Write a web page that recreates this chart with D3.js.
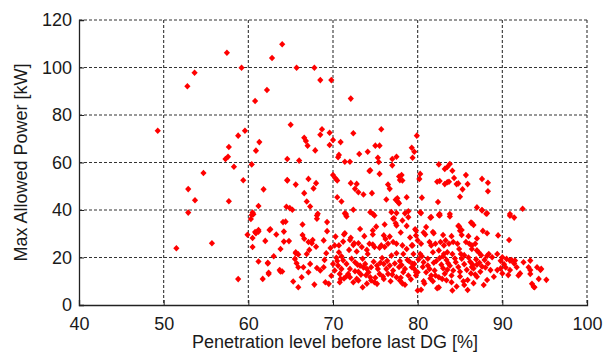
<!DOCTYPE html>
<html>
<head>
<meta charset="utf-8">
<script src="https://cdnjs.cloudflare.com/ajax/libs/d3/7.8.5/d3.min.js"></script>
<style>
  body { margin: 0; background: #fff; }
  text { font-family: "Liberation Sans", Arial, sans-serif; fill: #1a1a1a; }
</style>
</head>
<body>
<script>
// axis setup
const xTicks = [40, 50, 60, 70, 80, 90, 100];
const yTicks = [0, 20, 40, 60, 80, 100, 120];
const xLabel = "Penetration level before last DG [%]";
const yLabel = "Max Allowed Power [kW]";

// [penetration %, max power kW]
const sparsePoints = [
  [49.3,73.4],[51.5,23.9],[52.8,92.1],[52.9,48.8],[52.9,38.9],[53.65,97.8],[53.7,44.1],[54.7,55.6],
  [55.7,26],[57.3,61.5],[57.47,106.2],[57.6,62.4],[57.7,66.5],[57.7,43.7],[58.3,58.2],[58.8,71.3],
  [58.8,10.9],[59.2,99.9],[59.4,52.5],[59.6,73.4],[59.9,29.6],[60.3,36.2],[60.4,37.9],[60.4,59.2],
  [60.5,38.9],[60.5,28.2],[60.8,85.9],[60.8,30.7],[60.9,65],[61.2,41.7],[61.2,31.6],[61.3,68.6],
  [61.8,48.7],[62.2,90.5],[62.8,104],[64.0,109.8],[65.0,75.9],[65.7,99.9],[67.8,99.9],[68.5,94.7],
  [69.8,94.7],[72.1,86.9]
];

const midPoints = [
  [64.6,61.5],[64.6,52.4],[65.6,50.7],[66.0,60.8],[66.6,70.4],[66.8,69.1],[67.0,67.1],[66.6,47.1],
  [66.9,43.6],[67.3,41.5],[64.9,40.8],[65.2,40.1],[67.1,53.1],[68.0,51.3],[67.7,49.1],[67.9,65.1],
  [68.7,74.0],[68.5,71.7],[69.6,72.5],[70.0,69.5],[69.6,67.4],[70.9,68.6],[70.7,63.2],[70.6,62.2],
  [71.4,60.3],[72.0,60.3],[72.4,72.3],[73.1,63.6],[74.1,64.5],[75.0,67.1],[75.5,67.1],[75.7,74.0],
  [75.3,62.0],[75.4,60.2],[77.0,61.5],[77.5,62.4],[77.0,58.8],[74.4,56.7],[75.5,55.2],[70.0,54.7],
  [70.3,53.3],[70.5,52.4],[72.1,51.3],[72.8,51.0],[72.6,48.9],[73.0,47.5],[73.6,46.5],[74.6,47.1],
  [74.3,56.4],[76.5,50.7],[76.7,48.9],[77.8,54.1],[78.2,52.4],[70.5,45.4],[71.0,43.6],[76.3,44.4],
  [77.4,44.3],[77.7,43.3],[78.7,45.4],[72.4,40.1],[74.4,39.1],[74.7,38.4],[71.5,38.4],[76.9,39.1],
  [77.5,38.7],[78.9,39.5],[68.2,38.4],[79.9,71.3],[79.3,66.2],[79.6,64.5],[79.4,62.0],[78.1,54.7],
  [77.9,52.6],[77.6,44.9],[77.8,42.8],[71.4,38.6],[64.6,52.6],[64.5,41.4],
  [82.5,59.2],[83.8,59.4],[83.5,58.1],[83.2,57.3],[84.1,56.5],[80.3,55.2],[80.2,53.1],[85.7,54.7],
  [87.6,53.1],[82.3,51.9],[82.6,52.2],[83.2,50.9],[83.5,51.7],[83.7,51.9],[84.3,53.5],[84.6,50.9],
  [85.9,50.9],[88.3,51.5],[85.3,48.7],[88.3,47.9],[80.5,45.2],[85.0,45.6],[82.4,43.4],[87.0,41.1],
  [87.6,40.0],[92.4,40.5],[80.3,39.0],[82.6,38.3],[83.8,38.3],[88.2,38.6],[90.9,38.3],[91.4,36.8],
  [84.8,51.2]
];

const lowPoints = [
  [60.6,38.2],[68.1,37.7],[68.1,36.3],[71.5,38.1],[71.6,37.3],[74.9,37.7],[77.1,36.3],[77.5,33.5],
  [78.2,35.6],[78.9,37.0],[64.1,34.9],[66.4,33.9],[69.3,34.9],[76.1,33.9],[60.9,30.2],[61.2,30.9],
  [62.5,31.6],[63.3,29.7],[64.2,26.7],[66.4,29.5],[69.3,31.1],[71.3,29.7],[72.1,28.3],[72.5,26.0],
  [74.7,31.4],[74.7,29.7],[76.0,29.3],[76.7,28.8],[79.8,31.4],[64.8,26.9],[66.6,27.9],[67.1,26.5],
  [67.5,26.0],[67.6,27.4],[68.9,27.2],[70.3,28.8],[60.5,24.4],[63.8,23.6],[65.6,22.2],[65.9,21.3],
  [66.9,21.5],[67.2,23.2],[69.2,21.8],[70.7,22.2],[70.2,25.1],[70.7,25.1],[73.0,26.0],[73.4,24.4],
  [74.0,23.2],[74.1,21.5],[74.3,25.8],[74.7,25.5],[74.9,24.4],[75.5,24.1],[75.7,25.1],[76.1,24.4],
  [76.5,25.8],[77.1,26.5],[77.5,25.8],[78.2,25.1],[78.3,21.5],[78.7,23.6],[79.3,25.1],[79.5,21.5],
  [77.5,21.8],[76.9,20.8],[65.5,19.4],[65.7,17.6],[65.9,15.9],[62.3,17.8],[63.8,14.1],[64.0,14.1],
  [62.4,13.1],[61.7,11.0],[66.5,15.9],[67.1,13.8],[67.3,17.3],[68.1,15.6],[68.5,14.5],[68.9,15.9],
  [66.3,11.7],[67.8,8.6],[69.1,9.6],[69.5,8.9],[65.3,9.9],[65.9,7.5],[70.0,17.3],[70.2,14.5],
  [70.6,16.6],[71.0,15.2],[70.8,13.1],[71.6,17.3],[72.0,15.2],[71.8,13.1],[72.0,11.7],[72.6,18.0],
  [73.2,16.6],[70.8,9.6],[72.4,9.6],[72.8,11.0],[73.0,10.3],[73.5,7.5],[73.8,17.3],[74.0,15.2],
  [74.2,13.8],[74.5,15.9],[74.4,11.7],[74.5,10.3],[75.2,16.6],[75.3,15.2],[75.5,13.1],[74.9,9.6],
  [75.2,8.9],[76.0,17.3],[76.3,15.2],[76.5,13.1],[76.7,16.6],[77.1,14.5],[77.5,11.7],[77.9,10.3],
  [78.3,13.8],[78.5,15.2],[78.9,12.4],[79.3,15.9],[79.6,17.3],[79.8,13.8],[80.0,6.1],
  [71.4,30.2],[71.2,26.7],[72.0,27.4],[72.4,25.3],[71.9,23.2],[72.8,22.5],[73.5,19.5],[75.8,19.8],
  [77.9,18.5],[78.8,19.0],[70.4,19.9],[69.0,19.0],[71.0,20.5],[73.0,14.0],[76.8,10.0],[78.5,8.5],
  [75.9,12.0],[73.9,12.5],[71.3,11.2],[69.8,12.3],[72.6,14.2],[77.8,16.0],[76.2,27.8],[73.7,29.0],
  [73.2,32.0],[75.1,33.0],[78.0,30.5],[79.1,28.4],[62.0,27.0],[63.0,20.5],[61.2,18.3],[68.0,24.5],
  [69.7,24.0],[64.4,35.1],[62.6,31.9],[64.2,30.9],[62.3,17.5],[62.4,13.6],[63.7,14.7],[65.6,21.8],
  [70.5,18.5],[71.2,18.8],[72.2,19.5],[72.9,17.0],[73.6,15.8],[74.8,18.2],[75.6,17.8],[76.4,18.6],
  [77.3,17.5],[78.1,16.8],[79.0,18.4],[70.9,11.0],[71.6,12.1],[73.3,12.8],[74.0,9.0],[76.0,11.0],
  [77.0,12.8],[78.0,11.5],[79.2,10.8],[75.0,11.5]
];

const densePoints = [
  [80.4,38.7],[81.6,37.0],[82.6,37.7],[83.8,37.3],[87.6,39.8],[88.1,38.4],[90.9,37.6],
  [84.9,33.1],[85.2,31.6],[86.4,34.5],[81.0,32.8],[79.8,29.3],[80.9,29.7],[81.9,30.2],[88.2,30.2],
  [89.5,29.3],[90.8,27.4],[79.4,25.1],[80.0,27.2],[80.4,25.8],[81.4,26.5],[81.6,25.1],[82.1,25.8],
  [82.7,26.5],[83.1,25.1],[83.3,27.2],[83.7,25.8],[84.2,26.5],[81.8,22.2],[82.5,23.0],[83.1,21.5],
  [83.5,22.2],[84.1,21.5],[84.7,25.8],[84.9,23.6],[85.1,21.5],[85.7,26.5],[86.1,25.8],[86.4,25.1],
  [86.8,25.8],[86.4,23.6],[87.0,23.0],[87.2,22.2],[88.4,21.5],[88.8,20.1],[89.4,21.5],[90.0,20.1],
  [90.5,19.4],[90.9,18.7],[91.5,18.7],[92.5,18.0],[93.3,18.7],[93.1,15.9],[94.1,15.9],[94.5,14.8],
  [93.3,13.1],[94.3,11.0],[95.2,10.6],[93.5,8.9],[93.8,7.5],[91.7,15.9],[91.9,12.4],[79.4,17.3],
  [79.6,15.2],[80.0,13.8],[79.8,12.4],[80.7,18.0],[81.2,16.6],[81.4,15.2],[81.0,13.8],[81.6,12.4],
  [80.7,10.0],[81.8,10.0],[80.4,6.4],[82.1,12.4],[82.5,11.7],[82.9,11.0],[82.3,7.1],[84.0,9.6],
  [84.1,6.1],[88.2,20.7],[89.8,18.6],[90.2,17.2],[90.4,15.8],[89.8,15.4],[89.4,14.7],[90.0,13.3],
  [91.1,18.9],[91.4,17.5],[90.9,14.7],[92.1,13.3],[93.3,14.7],[94.6,15.2],[93.7,7.7],[90.7,12.6],
  [88.6,14.7],[89.0,11.9],[88.2,10.5],[87.8,8.4],[87.0,11.9],[87.4,14.0],[86.6,15.4],[86.3,13.3],
  [85.9,10.5],[85.5,8.4],[85.9,6.3],[82.5,7.4],[80.8,9.1],[78.2,9.1],[86.3,34.7],[86.6,33.7],
  [84.8,33.3],[85.0,31.3],[85.2,29.5],[87.7,31.2],[78.7,33.3],[79.7,31.9],[80.7,30.5],[81.8,30.7],
  [77.2,36.5],[77.4,34.4],[78.5,38.6],[81.5,36.8],[82.5,37.9],
  [82.2,18.5],[82.8,17.0],[83.0,15.5],[83.4,19.0],[83.8,16.5],[84.2,14.5],[84.5,18.0],[84.8,16.0],
  [85.2,19.5],[85.5,17.2],[85.8,14.8],[86.0,20.0],[86.2,18.2],[86.5,17.0],[86.9,19.2],[87.3,17.8],
  [87.6,16.2],[87.9,19.0],[88.3,17.5],[84.0,12.4],[83.2,13.2],[85.0,12.0],[86.8,12.8],[82.0,14.5],
  [80.5,20.5],[81.2,19.5],[83.0,20.5],[85.5,21.0],[87.5,21.0],[80.3,21.5],[80.1,19.2],[84.0,29.0],
  [86.0,29.0],[87.0,28.0],[83.0,29.5],
  [80.6,16.0],[81.9,17.8],[82.6,19.8],[83.6,17.6],[84.4,19.6],[85.0,14.0],[86.4,16.0],[87.0,17.0],
  [88.0,15.8],[83.5,14.8],[81.5,11.2],[83.4,10.4],[85.4,10.0],[86.6,9.2],[84.6,7.8]
];

const points = sparsePoints.concat(midPoints, lowPoints, densePoints);

var margin = { top: 20, right: 17, bottom: 48, left: 79 },
  width = 604 - margin.left - margin.right,
  height = 353 - margin.top - margin.bottom;

var x = d3.scaleLinear().domain([40, 100]).range([0, width]);
var y = d3.scaleLinear().domain([0, 120]).range([height, 0]);

var svg = d3.select("body").append("svg")
  .attr("width", 604)
  .attr("height", 353)
  .append("g")
  .attr("transform", "translate(" + margin.left + "," + margin.top + ")");

// dashed grid
svg.append("g").selectAll("line.gx")
  .data(xTicks.slice(1)).enter().append("line")
  .attr("x1", d => x(d)).attr("x2", d => x(d))
  .attr("y1", 0).attr("y2", height)
  .attr("stroke", "#333").attr("stroke-width", 1.1).attr("stroke-dasharray", "3,2");
svg.append("g").selectAll("line.gy")
  .data(yTicks.slice(1)).enter().append("line")
  .attr("x1", 0).attr("x2", width)
  .attr("y1", d => y(d)).attr("y2", d => y(d))
  .attr("stroke", "#333").attr("stroke-width", 1.1).attr("stroke-dasharray", "3,2");

// points
svg.append("g").selectAll("path")
  .data(points).enter().append("path")
  .attr("transform", d => "translate(" + x(d[0]) + "," + y(d[1]) + ")")
  .attr("d", "M0,-3.3L3.1,0L0,3.3L-3.1,0Z")
  .attr("fill", "#ff0000");

// axes
var xAxis = svg.append("g")
  .attr("transform", "translate(0," + height + ")")
  .call(d3.axisBottom(x).tickValues(xTicks).tickSize(-5).tickPadding(12));
var yAxis = svg.append("g")
  .call(d3.axisLeft(y).tickValues(yTicks).tickSize(-5).tickPadding(7));

[xAxis, yAxis].forEach(a => {
  a.select(".domain").attr("stroke", "#222").attr("stroke-width", 1.3);
  a.selectAll(".tick line").attr("stroke", "#222");
  a.selectAll("text").attr("font-size", 18).attr("fill", "#1a1a1a")
    .attr("font-family", "Liberation Sans, Arial, sans-serif");
});

svg.append("text")
  .attr("x", width / 2 + 2)
  .attr("y", height + 43)
  .attr("text-anchor", "middle")
  .attr("font-size", 18)
  .text(xLabel);

svg.append("text")
  .attr("transform", "translate(" + (-52) + "," + (height / 2) + ") rotate(-90)")
  .attr("text-anchor", "middle")
  .attr("font-size", 18)
  .text(yLabel);
</script>
</body>
</html>
